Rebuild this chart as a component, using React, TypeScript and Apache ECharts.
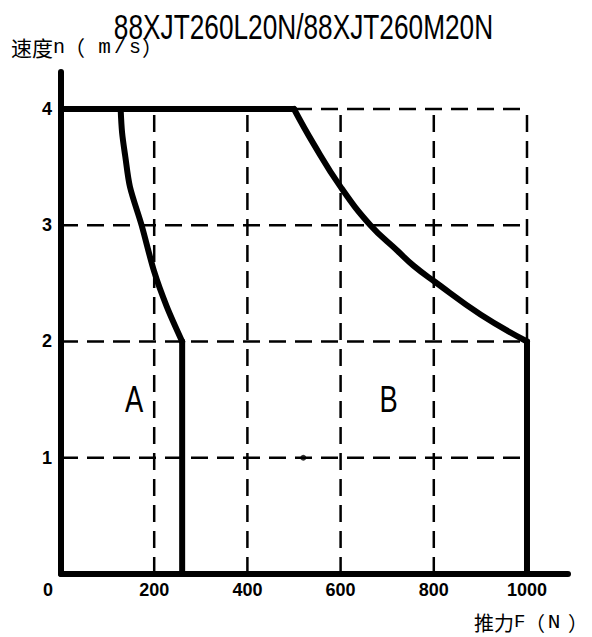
import React, { useEffect, useRef } from "react";
import * as echarts from "echarts";

const titleText = "88XJT260L20N/88XJT260M20N";

const xTicks = [0, 200, 400, 600, 800, 1000];
const yTicks = [1, 2, 3, 4];

// envelope A (L20N)
const curveA: number[][] = [
  [128, 4],
  [131, 3.8],
  [138, 3.59],
  [148, 3.33],
  [173, 3.0],
  [200, 2.6],
  [227, 2.3],
  [260, 2.0],
];
const dropA: number[][] = [
  [260, 2],
  [260, 0],
];
// envelope B (M20N)
const topLine: number[][] = [
  [0, 4],
  [500, 4],
];
const curveB: number[][] = [
  [500, 4],
  [542, 3.7],
  [600, 3.33],
  [664, 3.0],
  [722, 2.78],
  [757, 2.65],
  [800, 2.52],
  [901, 2.23],
  [1000, 2.0],
];
const dropB: number[][] = [
  [1000, 2],
  [1000, 0],
];
const dot: number[][] = [[520, 1]];
const regionNames = ["A", "B"];
const regionPos: number[][] = [
  [157, 1.5],
  [703, 1.5],
];

const X_MAX = 1088;
const Y_MAX = 4.318;

export default function App() {
  const ref = useRef<HTMLDivElement>(null);
  useEffect(() => {
    if (!ref.current) return;
    const chart = echarts.init(ref.current, null, { renderer: "svg" });
    const labelFont = {
      color: "#000",
      fontFamily: "'Liberation Sans Narrow', 'Liberation Sans', sans-serif",
      fontWeight: "bold" as const,
      fontSize: 18,
    };
    const dashStyle = { color: "#000", width: 2.5, type: [17, 9] as any };
    const thick = { color: "#000", width: 6, cap: "round" as const, join: "round" as const };
    const CJK = "'Noto Sans CJK SC'";
    const MONO = "'Liberation Mono', monospace";

    const gridSeries: any[] = [];
    xTicks
      .filter((v) => v > 0)
      .forEach((x) => {
        gridSeries.push({
          type: "line",
          data: [
            [x, 0],
            [x, yTicks[yTicks.length - 1]],
          ],
          symbol: "none",
          silent: true,
          lineStyle: dashStyle,
          z: 1,
        });
      });
    yTicks.forEach((y) => {
      gridSeries.push({
        type: "line",
        data: [
          [0, y],
          [xTicks[xTicks.length - 1], y],
        ],
        symbol: "none",
        silent: true,
        lineStyle: dashStyle,
        z: 1,
      });
    });

    const thickSeries = [
      { d: curveA, smooth: 0.3 },
      { d: dropA, smooth: false },
      { d: topLine, smooth: false },
      { d: curveB, smooth: 0.45 },
      { d: dropB, smooth: false },
    ].map((s) => ({
      type: "line",
      data: s.d,
      smooth: s.smooth,
      symbol: "none",
      silent: true,
      lineStyle: thick,
      z: 3,
    }));

    chart.setOption({
      animation: false,
      backgroundColor: "#fff",
      grid: { left: 61, right: 24, top: 72, bottom: 63 },
      xAxis: {
        type: "value",
        min: 0,
        max: X_MAX,
        interval: 200,
        axisLine: { show: true, lineStyle: { color: "#000", width: 6, cap: "round" } },
        axisTick: { show: false },
        splitLine: { show: false },
        axisLabel: {
          ...labelFont,
          margin: 7,
          showMaxLabel: false,
          formatter: (v: number) =>
            xTicks.includes(v) ? (v === 0 ? "{z|0}" : String(v)) : "",
          rich: { z: { ...labelFont, padding: [0, 26, 0, 0] } },
        },
      },
      yAxis: {
        type: "value",
        min: 0,
        max: Y_MAX,
        interval: 1,
        axisLine: { show: true, lineStyle: { color: "#000", width: 6, cap: "round" } },
        axisTick: { show: false },
        splitLine: { show: false },
        axisLabel: {
          ...labelFont,
          margin: 9,
          formatter: (v: number) => (yTicks.includes(v) ? String(v) : ""),
        },
      },
      graphic: [
        {
          type: "text",
          x: 303.5,
          y: 26,
          scaleX: 0.729,
          originX: 0,
          originY: 0,
          style: {
            text: titleText,
            fill: "#000",
            font: "36px 'Liberation Sans', sans-serif",
            textAlign: "center",
            textVerticalAlign: "middle",
          },
        },
        {
          type: "text",
          x: 11,
          y: 47,
          style: {
            text: "{c|速度}{n|n}{c|（}{m|m}{sl|/}{s|s}{c|）}",
            rich: {
              c: { fontFamily: CJK, fontSize: 21, fill: "#000" },
              n: { fontFamily: MONO, fontSize: 20, fill: "#000", width: 11, align: "left" },
              m: { fontFamily: MONO, fontSize: 21, fill: "#000", width: 15, align: "center", padding: [0, 0, 0, 12] },
              sl: { fontFamily: MONO, fontSize: 20, fill: "#000", width: 16, align: "center" },
              s: { fontFamily: MONO, fontSize: 20, fill: "#000", width: 14, align: "center" },
            },
            textAlign: "left",
            textVerticalAlign: "middle",
          },
        },
        {
          type: "text",
          x: 474,
          y: 622,
          style: {
            text: "{c|推力}{f|F}{c|（}{n|N}{c|）}",
            rich: {
              c: { fontFamily: CJK, fontSize: 20, fill: "#000" },
              f: { fontFamily: MONO, fontSize: 19, fill: "#000", width: 11, align: "left" },
              n: { fontFamily: MONO, fontSize: 21, fill: "#000", width: 14, align: "center", padding: [0, 7, 0, 2] },
            },
            textAlign: "left",
            textVerticalAlign: "middle",
          },
        },
      ],
      series: [
        ...gridSeries,
        ...thickSeries,
        {
          type: "scatter",
          data: dot,
          symbol: "circle",
          symbolSize: 6,
          itemStyle: { color: "#000" },
          silent: true,
          z: 4,
        },
        {
          type: "custom",
          data: regionPos.map((p, i) => [p[0], p[1], i]),
          silent: true,
          z: 4,
          renderItem: (_params: any, api: any) => {
            const pt = api.coord([api.value(0), api.value(1)]);
            return {
              type: "text",
              x: pt[0],
              y: pt[1],
              scaleX: 0.74,
              style: {
                text: regionNames[api.value(2)],
                fill: "#000",
                font: "37px 'Liberation Sans', sans-serif",
                align: "center",
                verticalAlign: "middle",
                textAlign: "center",
                textVerticalAlign: "middle",
              },
            };
          },
        },
      ],
    });
    return () => chart.dispose();
  }, []);
  return (
    <div
      ref={ref}
      style={{ position: "absolute", left: 0, top: 0, width: 592, height: 637 }}
    />
  );
}
